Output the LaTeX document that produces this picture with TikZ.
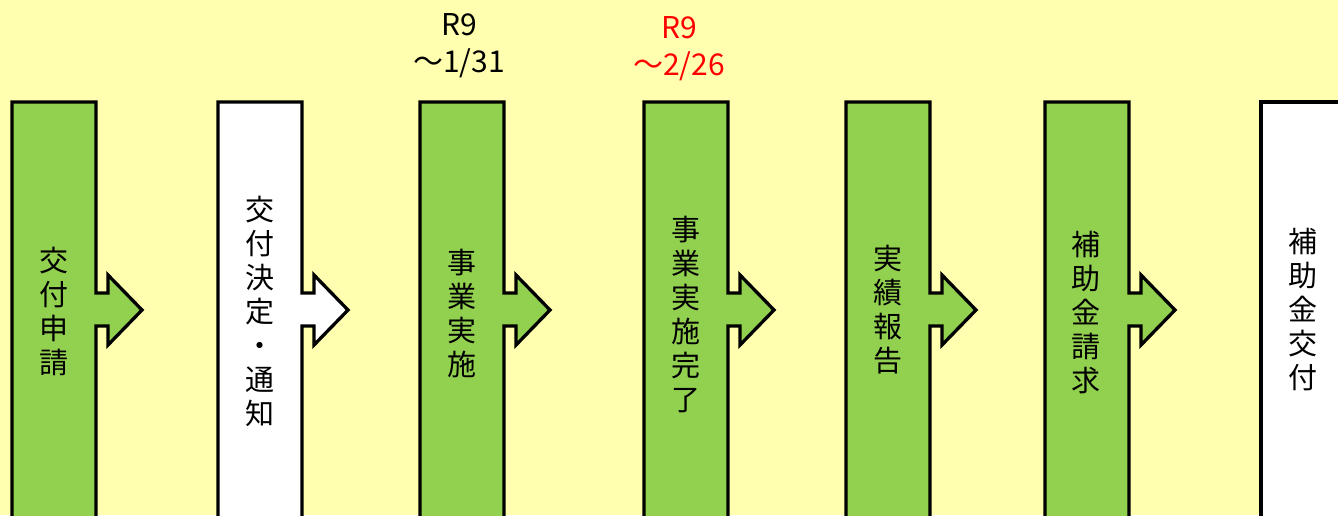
\documentclass[tikz,border=0pt]{standalone}
\usepackage{fontspec}
\newfontfamily\jp{Noto Sans CJK JP}
\definecolor{bgyellow}{HTML}{FFFFAF}
\definecolor{stepgreen}{HTML}{92D050}
\definecolor{duered}{HTML}{FF0000}

\tikzset{
    flowbox/.style={draw=black, line width=3.3pt, miter limit=10},
    vtext/.style={font=\jp\fontsize{29}{34}\selectfont, align=center, inner sep=0pt},
    duetext/.style={font=\jp\fontsize{30}{37}\selectfont, align=center, inner sep=0pt},
}

% box with an arrow on its right side: left x, fill colour
\newcommand{\arrowbox}[2]{%
    \filldraw[flowbox, fill=#2] (#1,102) -- ++(84,0) -- ++(0,191) -- ++(12,0) -- ++(0,-18)
        -- ++(34,35) -- ++(-34,35) -- ++(0,-19) -- ++(-12,0) -- ++(0,204) -- ++(-84,0) -- cycle;}

\begin{document}
\begin{tikzpicture}[x=1pt, y=-1pt]
    \useasboundingbox[fill=bgyellow] (0,0) rectangle (1338,515);
    \clip (0,0) rectangle (1338,515);

    \foreach \x/\c in {12/stepgreen, 218/white, 420/stepgreen, 644/stepgreen, 846/stepgreen, 1045/stepgreen}
        \arrowbox{\x}{\c};
    \filldraw[flowbox, fill=white] (1261,102) rectangle (1345,530);

    \node[vtext] (t1) at (54, 311) {交\\付\\申\\請};
    \node[vtext] (t2) at (260, 311) {交\\付\\決\\定\\・\\通\\知};
    \node[vtext] (t3) at (462, 313) {事\\業\\実\\施};
    \node[vtext] (t4) at (686, 314) {事\\業\\実\\施\\完\\了};
    \node[vtext] (t5) at (888, 310) {実\\績\\報\\告};
    \node[vtext] (t6) at (1086, 313) {補\\助\\金\\請\\求};
    \node[vtext] (t7) at (1303, 310) {補\\助\\金\\交\\付};

    % due dates
    \node[duetext] (due1) at (459, 46) {R9\\～1/31};
    \node[duetext, text=duered] (due2) at (679, 49) {R9\\～2/26};
\end{tikzpicture}
\end{document}
